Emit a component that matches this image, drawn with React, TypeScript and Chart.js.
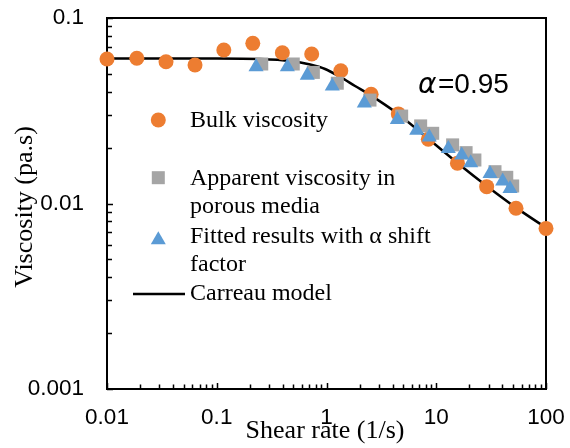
import React, { useEffect, useRef } from 'react';
import { Chart, registerables } from 'chart.js';

Chart.register(...registerables);

// ---- Data ----
const bulkX = [0.01, 0.0187, 0.0345, 0.0634, 0.116, 0.213, 0.396, 0.733, 1.35, 2.55, 4.51, 8.47, 15.6, 28.8, 53.3, 100];
const bulkY = [0.0601, 0.0607, 0.0581, 0.0558, 0.0672, 0.073, 0.065, 0.064, 0.052, 0.0388, 0.0304, 0.0222, 0.0165, 0.01233, 0.00942, 0.00734];

const apparentX = [0.257, 0.498, 0.759, 1.254, 2.49, 4.84, 7.21, 9.28, 14.1, 18.7, 22.5, 34.3, 43.9, 49.7];
const apparentY = [0.0565, 0.0565, 0.0509, 0.0445, 0.0361, 0.0296, 0.0262, 0.0239, 0.0207, 0.0188, 0.01716, 0.01484, 0.01384, 0.01243];

const fittedX = [0.228, 0.44, 0.668, 1.129, 2.21, 4.42, 6.64, 8.64, 12.88, 17.06, 20.6, 30.9, 40.3, 47];
const fittedY = [0.0545, 0.0545, 0.0491, 0.0429, 0.0348, 0.0283, 0.0248, 0.0228, 0.01974, 0.0182, 0.01653, 0.01447, 0.01318, 0.01202];

const carreauX = [0.01, 0.1, 0.25, 0.47, 0.71, 0.97, 1.33, 1.82, 2.49, 4.48, 8.41, 15.5, 29, 53.3, 100];
const carreauY = [0.0605, 0.0605, 0.0601, 0.0586, 0.0561, 0.0531, 0.0481, 0.043, 0.0385, 0.0304, 0.0224, 0.0166, 0.0124, 0.0095, 0.0074];

const xTickValues = [0.01, 0.1, 1, 10, 100];
const xTickLabels = ['0.01', '0.1', '1', '10', '100'];
const yTickValues = [0.001, 0.01, 0.1];
const yTickLabels = ['0.001', '0.01', '0.1'];

const seriesNames = ['Bulk viscosity', 'Apparent viscosity in', 'porous media', 'Fitted results with \u03b1 shift', 'factor', 'Carreau model'];
const xTitle = 'Shear rate (1/s)';
const yTitle = 'Viscosity (pa.s)';
const alphaLabel = '\u03b1';
const alphaValue = '=0.95';

const ORANGE = '#ED7D31';
const GREY = '#A5A5A5';
const BLUE = '#5B9BD5';
const SERIF = '"Liberation Serif", "Times New Roman", serif';
const SANS = '"Liberation Sans", Arial, sans-serif';

const pts = (xs: number[], ys: number[]) => xs.map((x, i) => ({ x, y: ys[i] }));

const overlay = {
  id: 'overlay',
  beforeDatasetsDraw(chart: any) {
    const { ctx, chartArea: a, scales } = chart;
    const xs = scales.x;
    const ys = scales.y;
    ctx.save();
    ctx.strokeStyle = '#000';
    ctx.lineWidth = 2;
    ctx.strokeRect(a.left, a.top, a.right - a.left, a.bottom - a.top);
    ctx.lineWidth = 1.5;
    ctx.beginPath();
    for (let i = 0; i < xTickValues.length; i++) {
      const base = xTickValues[i];
      const kmax = i === xTickValues.length - 1 ? 1 : 9;
      for (let k = 1; k <= kmax; k++) {
        const px = Math.round(xs.getPixelForValue(base * k)) + 0.5;
        const len = k === 1 ? 6 : 4.5;
        ctx.moveTo(px, a.bottom);
        ctx.lineTo(px, a.bottom - len);
      }
    }
    for (let i = 0; i < yTickValues.length; i++) {
      const base = yTickValues[i];
      const kmax = i === yTickValues.length - 1 ? 1 : 9;
      for (let k = 1; k <= kmax; k++) {
        const py = Math.round(ys.getPixelForValue(base * k)) + 0.5;
        const len = k === 1 ? 6 : 5;
        ctx.moveTo(a.left, py);
        ctx.lineTo(a.left + len, py);
      }
    }
    ctx.stroke();
    ctx.restore();
  },
  afterDraw(chart: any) {
    const { ctx } = chart;
    ctx.save();
    // legend markers
    ctx.fillStyle = ORANGE;
    ctx.beginPath();
    ctx.arc(158.3, 120, 7.5, 0, Math.PI * 2);
    ctx.fill();
    ctx.fillStyle = GREY;
    ctx.fillRect(158.3 - 6.5, 177.7 - 6.5, 13, 13);
    ctx.fillStyle = BLUE;
    ctx.beginPath();
    ctx.moveTo(158.3, 231.2);
    ctx.lineTo(158.3 + 7.5, 244.2);
    ctx.lineTo(158.3 - 7.5, 244.2);
    ctx.closePath();
    ctx.fill();
    ctx.strokeStyle = '#000';
    ctx.lineWidth = 2.5;
    ctx.beginPath();
    ctx.moveTo(133, 294);
    ctx.lineTo(185, 294);
    ctx.stroke();

    // legend text
    ctx.fillStyle = '#000';
    ctx.font = `24px ${SERIF}`;
    ctx.textAlign = 'left';
    ctx.textBaseline = 'alphabetic';
    const baselines = [127.3, 185, 213.3, 243.3, 270.7, 300];
    seriesNames.forEach((t, i) => ctx.fillText(t, 190, baselines[i]));

    // axis titles
    ctx.font = `26px ${SERIF}`;
    ctx.textAlign = 'center';
    ctx.fillText(xTitle, 325, 438.3);
    ctx.save();
    ctx.translate(32, 207);
    ctx.rotate(-Math.PI / 2);
    ctx.fillText(yTitle, 0, 0);
    ctx.restore();

    // alpha annotation
    ctx.textAlign = 'left';
    ctx.font = `italic 28px "DejaVu Sans", ${SANS}`;
    ctx.fillText(alphaLabel, 418, 93.3);
    ctx.font = `28px ${SANS}`;
    ctx.fillText(alphaValue, 438, 93.3);
    ctx.restore();
  },
};

export default function App() {
  const ref = useRef<HTMLCanvasElement | null>(null);
  useEffect(() => {
    if (!ref.current) return;
    const chart = new Chart(ref.current, {
      type: 'scatter',
      data: {
        datasets: [
          {
            label: 'Bulk viscosity',
            data: pts(bulkX, bulkY),
            pointStyle: 'circle',
            pointRadius: 7.5,
            pointBackgroundColor: ORANGE,
            backgroundColor: ORANGE,
            pointBorderWidth: 0,
            borderWidth: 0,
            order: 3,
            clip: false,
          } as any,
          {
            label: 'Apparent viscosity in porous media',
            data: pts(apparentX, apparentY),
            pointStyle: 'rect',
            pointRadius: 9.2,
            pointBackgroundColor: GREY,
            backgroundColor: GREY,
            pointBorderWidth: 0,
            borderWidth: 0,
            order: 2,
            clip: false,
          },
          {
            label: 'Fitted results with \u03b1 shift factor',
            data: pts(fittedX, fittedY),
            pointStyle: 'triangle',
            pointRadius: 8.7,
            pointBackgroundColor: BLUE,
            backgroundColor: BLUE,
            pointBorderWidth: 0,
            borderWidth: 0,
            order: 1,
            clip: false,
          },
          {
            label: 'Carreau model',
            data: pts(carreauX, carreauY),
            showLine: true,
            pointRadius: 0,
            borderColor: '#000',
            borderWidth: 2.5,
            cubicInterpolationMode: 'monotone',
            order: 4,
            clip: false,
          },
        ],
      },
      options: {
        responsive: false,
        animation: false,
        devicePixelRatio: 1,
        events: [],
        layout: { padding: { top: 18, right: 24, left: 0, bottom: 0 } },
        plugins: { legend: { display: false }, tooltip: { enabled: false }, title: { display: false } },
        scales: {
          x: {
            type: 'logarithmic',
            position: 'bottom',
            min: 0.01,
            max: 100,
            grid: { display: false, drawTicks: false },
            border: { display: false },
            afterBuildTicks: (s: any) => {
              s.ticks = xTickValues.map((v) => ({ value: v, major: true }));
            },
            afterFit: (s: any) => {
              s.height = 59;
              s.paddingLeft = 0;
              s.paddingRight = 0;
              s.paddingTop = 0;
              s.paddingBottom = 0;
            },
            ticks: {
              autoSkip: false,
              maxRotation: 0,
              minRotation: 0,
              padding: 15,
              color: '#000',
              font: { family: SANS, size: 22.5 },
              callback: (_v: any, i: number) => xTickLabels[i],
            },
          },
          y: {
            type: 'logarithmic',
            position: 'left',
            min: 0.001,
            max: 0.1,
            grid: { display: false, drawTicks: false },
            border: { display: false },
            afterBuildTicks: (s: any) => {
              s.ticks = yTickValues.map((v) => ({ value: v, major: true }));
            },
            afterFit: (s: any) => {
              s.width = 107;
              s.paddingLeft = 0;
              s.paddingRight = 0;
              s.paddingTop = 0;
              s.paddingBottom = 0;
            },
            ticks: {
              autoSkip: false,
              padding: 23,
              color: '#000',
              font: { family: SANS, size: 22.5 },
              callback: (_v: any, i: number) => yTickLabels[i],
            },
          },
        },
      },
      plugins: [overlay],
    } as any);
    return () => chart.destroy();
  }, []);
  return (
    <div style={{ position: 'fixed', left: 0, top: 0, width: 570, height: 448, background: '#fff' }}>
      <canvas ref={ref} width={570} height={448} style={{ display: 'block', width: 570, height: 448 }} />
    </div>
  );
}
